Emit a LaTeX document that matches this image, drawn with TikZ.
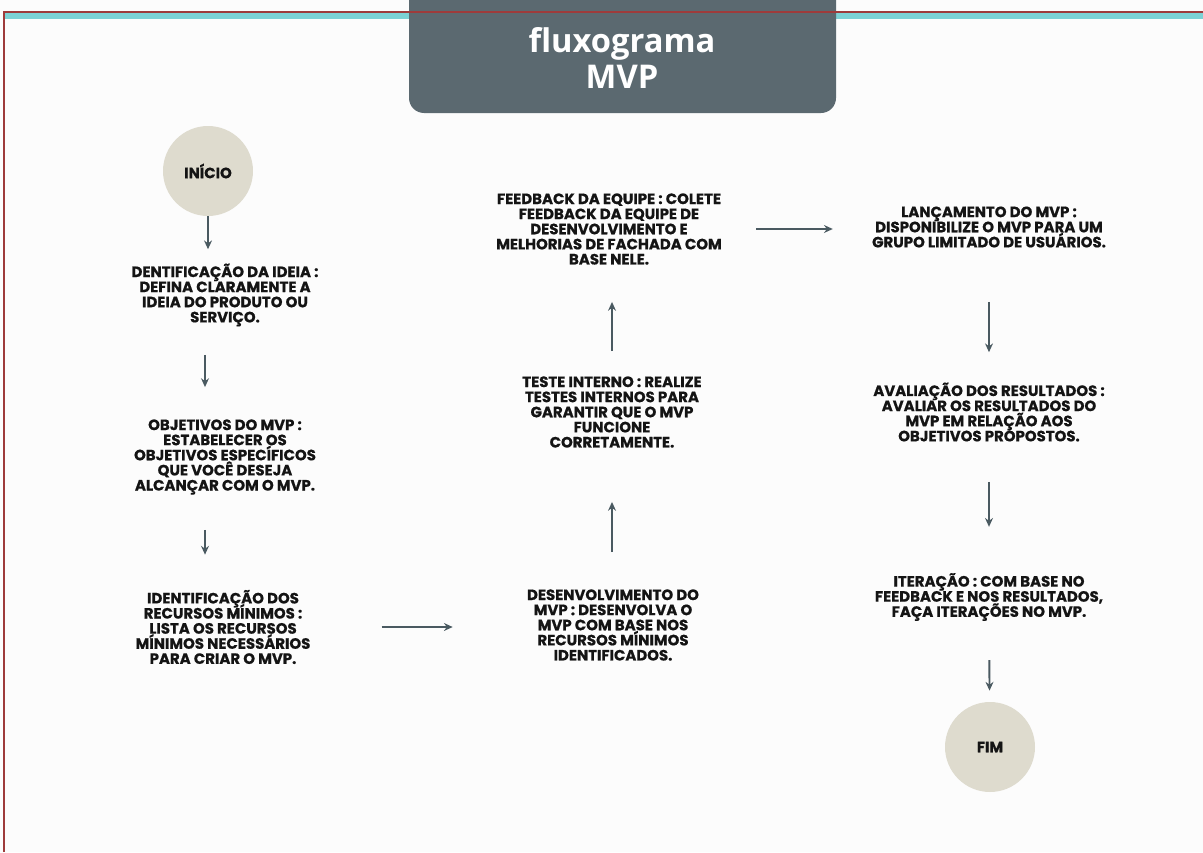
\documentclass[tikz,border=0pt]{standalone}
\usepackage{fontspec}
\setmainfont{Poppins}
\newfontfamily\passofonte{Poppins}[BoldFeatures={FakeBold=0.7}]
\newfontfamily\titulofonte{Open Sans}
\usetikzlibrary{positioning,arrows.meta}
\definecolor{faixa}{HTML}{7CD2D5}
\definecolor{borda}{HTML}{9E3B3B}
\definecolor{banner}{HTML}{5B6970}
\definecolor{bege}{HTML}{DEDBCE}
\definecolor{seta}{HTML}{4A5A61}
\definecolor{tinta}{HTML}{141414}
\definecolor{fundo}{HTML}{FCFCFC}
\newdimen\px \px=0.02cm
\lineskiplimit=-10pt
\begin{document}
\begin{tikzpicture}[x=0.02cm, y=-0.02cm,
  passo/.style={font=\passofonte\bfseries\fontsize{8.5}{8.6}\selectfont, align=center, text=tinta, inner sep=0pt},
  terminal/.style={circle, fill=bege, minimum size=1.8cm, inner sep=0pt, font=\passofonte\bfseries\fontsize{8.5}{8.6}\selectfont, text=tinta},
  fluxo/.style={draw=seta, line width=1.1pt, -{Stealth[length=5pt, width=4.5pt]}}]
  \fill[fundo] (0,0) rectangle (1203,852);
  \useasboundingbox (0,0) rectangle (1203,852);
  \fill[faixa] (4,13) rectangle (1203,19);
  \fill[banner, rounded corners=15\px] (409,-20) rectangle (836,113);
  \draw[borda, line width=0.6pt] (4,852) -- (4,12) -- (1203,12);
  \node[text=white, font=\titulofonte\bfseries\fontsize{18.6}{20.5}\selectfont, align=center] (titulo) at (622,58) {fluxograma\\MVP};

  \coordinate (colA) at (205,0);
  \coordinate (colB) at (612,0);
  \coordinate (colC) at (989,0);

  \node[terminal] (inicio) at (208,171) {INÍCIO};
  \node[passo] (ideia) at (225,295) {DENTIFICAÇÃO DA IDEIA :\\DEFINA CLARAMENTE A\\IDEIA DO PRODUTO OU\\SERVIÇO.};
  \node[passo] (objetivos) at (225,457) {OBJETIVOS DO MVP :\\ESTABELECER OS\\OBJETIVOS ESPECÍFICOS\\QUE VOCÊ DESEJA\\ALCANÇAR COM O MVP.};
  \node[passo] (recursos) at (223,627) {IDENTIFICAÇÃO DOS\\RECURSOS MÍNIMOS :\\LISTA OS RECURSOS\\MÍNIMOS NECESSÁRIOS\\PARA CRIAR O MVP.};
  \node[passo] (desenv) at (613,625) {DESENVOLVIMENTO DO\\MVP : DESENVOLVA O\\MVP COM BASE NOS\\RECURSOS MÍNIMOS\\IDENTIFICADOS.};
  \node[passo] (teste) at (612,412) {TESTE INTERNO : REALIZE\\TESTES INTERNOS PARA\\GARANTIR QUE O MVP\\FUNCIONE\\CORRETAMENTE.};
  \node[passo] (feedback) at (609,229) {FEEDBACK DA EQUIPE : COLETE\\FEEDBACK DA EQUIPE DE\\DESENVOLVIMENTO E\\MELHORIAS DE FACHADA COM\\BASE NELE.};
  \node[passo] (lancamento) at (989,227) {LANÇAMENTO DO MVP :\\DISPONIBILIZE O MVP PARA UM\\GRUPO LIMITADO DE USUÁRIOS.};
  \node[passo] (avaliacao) at (989,412) {AVALIAÇÃO DOS RESULTADOS :\\AVALIAR OS RESULTADOS DO\\MVP EM RELAÇÃO AOS\\OBJETIVOS PROPOSTOS.};
  \node[passo] (iteracao) at (989,597) {ITERAÇÃO : COM BASE NO\\FEEDBACK E NOS RESULTADOS,\\FAÇA ITERAÇÕES NO MVP.};
  \node[terminal] (fim) at (990,747) {FIM};

  \draw[fluxo, shorten >=14\px] (inicio) -- (inicio |- ideia.north);
  \draw[fluxo, shorten <=28\px, shorten >=32\px] (ideia.south -| colA) -- (objetivos.north -| colA);
  \draw[fluxo, shorten <=35\px, shorten >=35\px] (objetivos.south -| colA) -- (recursos.north -| colA);
  \draw[fluxo, shorten <=71\px, shorten >=74\px] (recursos.east) -- (recursos.east -| desenv.west);
  \draw[fluxo, shorten <=37\px, shorten >=54\px] (desenv.north -| colB) -- (teste.south -| colB);
  \draw[fluxo, shorten <=25\px, shorten >=37\px] (teste.north -| colB) -- (feedback.south -| colB);
  \draw[fluxo, shorten <=34\px, shorten >=39\px] (feedback.east) -- (feedback.east -| lancamento.west);
  \draw[fluxo, shorten <=54\px, shorten >=30\px] (lancamento.south -| colC) -- (avaliacao.north -| colC);
  \draw[fluxo, shorten <=40\px, shorten >=46\px] (avaliacao.south -| colC) -- (iteracao.north -| colC);
  \draw[fluxo, shorten <=39\px, shorten >=11\px] (iteracao.south -| colC) -- (fim);
\end{tikzpicture}
\end{document}
